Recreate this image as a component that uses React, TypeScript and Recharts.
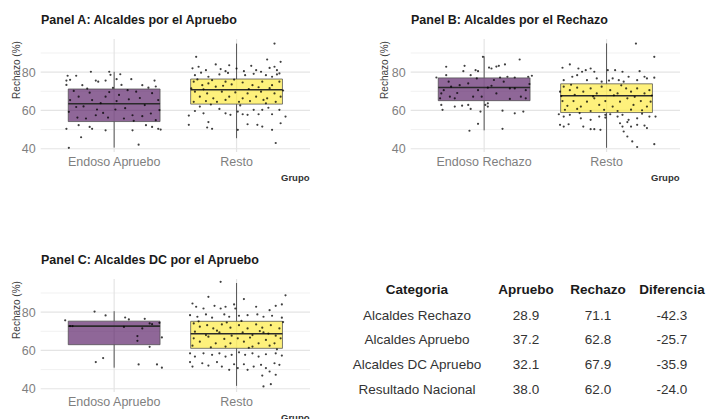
import React from "react";
import { ComposedChart, XAxis, YAxis, Scatter, ReferenceLine, ReferenceArea, CartesianGrid } from "recharts";

// ---------- data ----------
const CATS_A = ["Endoso Apruebo", "Resto"];
const CATS_B = ["Endoso Rechazo", "Resto"];
const CATS_C = ["Endoso Apruebo", "Resto"];

const TITLES = [
  "Panel A: Alcaldes por el Apruebo",
  "Panel B: Alcaldes por el Rechazo",
  "Panel C: Alcaldes DC por el Apruebo",
];

const Y_TICKS = [40, 60, 80];
const GRID_MINOR = [50, 70, 90];
const X_POS = [1, 2];
const Y_DOMAIN = [38.3, 97.3];

// box stats: [lower whisker, q1, median, q3, upper whisker]
const BOX_A = [
  [40.6, 54.2, 63.5, 71.2, 80.2],
  [45.5, 63.3, 70.8, 76.4, 94.9],
];
const BOX_B = [
  [49.6, 65.1, 72.0, 77.0, 88.3],
  [40.5, 58.9, 67.7, 73.9, 95.0],
];
const BOX_C = [
  [51.0, 63.0, 72.7, 75.3, 80.5],
  [41.5, 61.1, 68.7, 75.2, 95.2],
];

// jittered points: [horizontal jitter offset, value]
const PTS_A_ENDOSO = [
  [-0.38, 78.1], [-0.31, 78.1], [-0.19, 80.2], [-0.04, 80.2], [-0.03, 78.6], [-0.39, 75.6], [-0.36, 76],
  [-0.39, 73.3], [-0.26, 73.2], [-0.15, 75.6], [-0.13, 75], [-0.07, 75.6], [0.02, 76.3], [0.06, 73.3],
  [0.14, 76.3], [0.23, 73.2], [0.33, 75.6], [0.34, 72.5], [-0.36, 65.4], [-0.29, 67.2], [-0.2, 69.3],
  [-0.18, 65.4], [-0.14, 60.5], [-0.07, 67.2], [-0.04, 69.6], [0.02, 64.9], [0.04, 68.1], [0.12, 65.8],
  [0.18, 69.8], [0.25, 62.8], [0.31, 69], [0.36, 65.4], [-0.37, 59.3], [-0.3, 56.3], [-0.23, 55.8],
  [-0.15, 57.5], [-0.05, 56.3], [0.01, 60.5], [0.08, 55.8], [0.15, 57.5], [0.23, 57], [0.3, 58.4],
  [0.34, 54.9], [-0.39, 50.4], [-0.29, 52.3], [-0.2, 51.4], [-0.18, 50.4], [-0.07, 49.6], [-0.27, 46],
  [-0.37, 40.5], [0.15, 49.6], [0.2, 42.1], [0.31, 51.4], [0.36, 50.4], [0.38, 50], [0.26, 52.3],
  [-0.33, 70.2], [-0.25, 62.1], [-0.11, 63.8], [-0.01, 71.8], [0.09, 61.2], [0.21, 66.5], [0.28, 71.9],
  [0.37, 60.2], [-0.22, 71.4], [0.11, 70.6], [-0.09, 58.7], [0.16, 54.6], [-0.31, 61.8], [0.05, 78.9],
];
const PTS_A_RESTO = [
  [0.31, 94.9], [-0.33, 88], [0.25, 86.6], [0.36, 85.4], [-0.36, 82], [-0.31, 82.8], [-0.25, 81],
  [-0.17, 84], [-0.13, 81.6], [-0.09, 80.5], [-0.06, 83.6], [0, 81.9], [0.06, 80.5], [0.12, 83.3],
  [0.16, 81], [0.2, 80.2], [0.27, 82.2], [0.31, 82.8], [0.33, 81], [0.35, 79.3], [-0.34, 78.4],
  [-0.23, 77.6], [-0.14, 78.8], [0.07, 78.4], [0.24, 78.4], [0.29, 77.6], [-0.35, 75], [-0.28, 73.2],
  [-0.23, 74.1], [-0.17, 72.4], [-0.09, 75], [-0.04, 73.6], [0.05, 74.6], [0.13, 73.2], [0.21, 75],
  [0.29, 73.2], [0.35, 75], [-0.34, 69.8], [-0.3, 67.2], [-0.24, 68.9], [-0.19, 66.3], [-0.12, 69.8],
  [-0.06, 67.2], [-0.01, 69.4], [0.05, 66.3], [0.09, 68.9], [0.16, 67.2], [0.2, 69.8], [0.25, 66.3],
  [0.31, 68.9], [0.36, 67.2], [-0.35, 64.5], [-0.25, 64.9], [-0.16, 64.5], [-0.09, 65.5], [0.02, 64.5],
  [0.11, 64.9], [0.22, 65.5], [0.32, 64.5], [0.24, 63.7], [-0.3, 62], [-0.34, 59.7], [-0.27, 58.5],
  [-0.14, 60.8], [-0.09, 58.5], [-0.05, 57.7], [0.01, 59.4], [0.05, 58], [0.09, 57.7], [0.14, 60.3],
  [0.18, 58], [0.21, 60.3], [0.29, 58], [0.35, 60.3], [0.4, 56.8], [-0.39, 52.5], [-0.23, 53.9],
  [-0.24, 51.1], [-0.2, 50.4], [0.09, 52.8], [0.17, 52.5], [0.21, 51.6], [0.36, 53.3], [0.29, 49.9],
  [0.32, 43], [0.01, 49.9], [-0.39, 57.3], [-0.37, 71.5], [-0.2, 75.8], [-0.02, 76.1], [0.1, 71.2],
  [0.27, 71.6], [0.38, 70.4], [-0.27, 71], [-0.11, 72.9], [0.18, 72.1], [-0.32, 76.2], [0.03, 62.6],
  [-0.21, 63.1], [0.26, 61.4], [0.33, 78.8], [-0.07, 79.6], [0.14, 79.1], [-0.29, 79.7],
];
const PTS_B_ENDOSO = [
  [-0.01, 88], [-0.31, 82.8], [-0.16, 83.3], [-0.07, 81], [-0.05, 80.5], [0.04, 82.4], [0.06, 81.9],
  [0.1, 82.9], [0.12, 83.3], [0.17, 84], [0.29, 86.6], [-0.39, 77.2], [-0.31, 78.4], [-0.17, 80.5],
  [-0.11, 78.4], [-0.06, 76.7], [0.13, 77.2], [0.19, 77.6], [0.25, 77.2], [0.36, 77.6], [0.39, 78.1],
  [-0.33, 70.6], [-0.29, 75], [-0.27, 72.4], [-0.2, 73.2], [-0.13, 74.1], [-0.05, 70.6], [-0.02, 67.2],
  [0.03, 71.9], [0.06, 72.9], [0.1, 68.9], [0.16, 75], [0.21, 71.5], [0.25, 71.5], [0.3, 67.2],
  [0.34, 70.6], [-0.36, 66.3], [-0.28, 67.2], [-0.24, 66.3], [-0.09, 67.2], [0.21, 66], [0.34, 66.3],
  [-0.35, 68.9], [-0.35, 62.9], [-0.34, 60.3], [-0.18, 62.5], [-0.13, 62.9], [-0.11, 60.8],
  [-0.03, 59.4], [0.01, 62.9], [0.03, 62], [0.15, 59.9], [0.25, 58.5], [0.32, 59.4], [-0.05, 53],
  [-0.12, 49.4], [0.15, 50.4], [-0.24, 62], [0.03, 63.7], [0.37, 73.8], [-0.22, 69.1], [0.08, 75.9],
];
const PTS_B_RESTO = [
  [0.24, 94.9], [0.39, 88], [-0.36, 82.3], [-0.3, 84], [-0.23, 81.9], [-0.2, 80.2], [-0.17, 81],
  [-0.13, 81.9], [-0.1, 80.2], [0.01, 81], [0.07, 81], [0.13, 80.2], [0.18, 77.6], [0.27, 80.5],
  [0.33, 76.7], [0.39, 77.1], [-0.35, 75.8], [-0.28, 77.6], [-0.24, 78.4], [-0.16, 75.8], [-0.08, 76.7],
  [-0.04, 75], [0.05, 76.7], [0.1, 75.8], [0.14, 75], [0.25, 75.8], [0.31, 77.6], [-0.35, 72.4],
  [-0.3, 70.6], [-0.24, 71.9], [-0.19, 69.8], [-0.13, 71.5], [-0.08, 68.9], [-0.04, 72.4], [0.03, 70.6],
  [0.09, 68.9], [0.16, 71.5], [0.2, 69.8], [0.25, 71.5], [0.31, 68.9], [0.35, 70.6], [-0.36, 64.9],
  [-0.32, 62.4], [-0.27, 64.9], [-0.21, 62], [-0.16, 64.6], [-0.1, 66.3], [-0.06, 62.9], [-0.01, 64.9],
  [0.05, 62], [0.11, 64.6], [0.17, 66.3], [0.22, 62.9], [0.28, 64.9], [0.33, 62], [0.36, 64.6],
  [-0.34, 60.3], [-0.24, 60.8], [-0.13, 59.7], [-0.02, 60.3], [0.09, 59.7], [0.2, 60.4], [0.29, 60.1],
  [-0.39, 58], [-0.35, 56.8], [-0.3, 57.7], [-0.21, 55.9], [-0.13, 55.1], [-0.06, 56.8], [-0.01, 57.7],
  [0.03, 58], [0.09, 56.8], [0.13, 57.7], [0.18, 55.1], [0.25, 55.9], [0.35, 56.8], [0.4, 56.8],
  [-0.38, 52.5], [-0.35, 51.6], [-0.31, 52.8], [-0.19, 51.6], [-0.13, 50.2], [-0.1, 50.2], [-0.05, 49.9],
  [0.11, 53.3], [0.13, 51.6], [0.17, 53.9], [0.14, 49], [0.2, 51.6], [0.25, 52.5], [0.31, 52.1],
  [0.33, 50.8], [0.17, 46.4], [0.21, 43.8], [0.25, 40.9], [0.39, 42.4], [-0.01, 56.3], [-0.37, 67.5],
  [-0.26, 68.2], [-0.11, 67.3], [0.06, 67.9], [0.23, 67.1], [0.37, 67.8], [-0.29, 73.4], [0.12, 73.1],
  [-0.38, 69.8], [0.29, 58.3], [-0.22, 58.6], [0.02, 75.6],
];
const PTS_C_ENDOSO = [
  [-0.4, 75.7], [-0.36, 72.7], [-0.34, 72.7], [-0.16, 80.3], [-0.07, 78.3], [0.09, 77.2], [0.12, 76.2],
  [0.25, 76.5], [0.29, 74.1], [0.31, 73.7], [0.08, 72.3], [0.23, 71.5], [0.19, 67.5], [0.19, 65],
  [0.29, 61.9], [0.39, 66.8], [-0.09, 56], [-0.15, 53.9], [0.2, 52.7], [0.35, 52.7], [0.39, 51],
  [0.37, 74.4],
];
const PTS_C_RESTO = [
  [-0.13, 95.8], [0.4, 88.8], [-0.23, 88], [0.06, 86.8], [-0.36, 84.5], [-0.33, 82.8], [-0.27, 81.9],
  [-0.18, 83.3], [-0.13, 81.9], [-0.09, 82.8], [-0.02, 84], [-0.01, 81.9], [0.16, 82.8], [0.27, 81],
  [0.32, 83.3], [0.37, 84], [-0.38, 78.4], [-0.32, 77.6], [-0.25, 78.8], [-0.2, 77.1], [-0.1, 78.8],
  [-0.06, 77.6], [0.02, 78.1], [0.09, 78.4], [0.17, 78.8], [0.22, 77.6], [0.29, 78.1], [0.37, 77.1],
  [-0.35, 74.1], [-0.3, 72.4], [-0.24, 73.2], [-0.19, 71.5], [-0.12, 73.6], [-0.05, 71.9], [0.02, 73.2],
  [0.09, 71.5], [0.16, 73.6], [0.21, 71.9], [0.28, 73.2], [0.35, 71.5], [-0.35, 66.3], [-0.3, 64.6],
  [-0.23, 67.2], [-0.17, 63.7], [-0.1, 66], [-0.05, 63.7], [0.01, 66.3], [0.06, 64.6], [0.11, 66.7],
  [0.18, 63.7], [0.24, 65.5], [0.31, 63.7], [0.36, 66.3], [-0.34, 69.8], [-0.25, 68], [-0.14, 69.4],
  [-0.04, 67.7], [0.05, 69.4], [0.13, 68], [0.22, 69.4], [0.32, 67.7], [-0.36, 62.5], [-0.09, 62],
  [0.13, 62], [0.27, 62.5], [-0.38, 58.5], [-0.34, 56.8], [-0.27, 58.5], [-0.2, 57.7], [-0.14, 58.5],
  [-0.09, 56.8], [-0.04, 57.7], [0.02, 59], [0.07, 57.7], [0.13, 58.5], [0.18, 56.8], [0.24, 58],
  [0.32, 58.5], [0.37, 57.3], [-0.38, 53.9], [-0.28, 53.3], [-0.23, 52.1], [-0.16, 53.9], [-0.12, 51.6],
  [-0.02, 52.8], [0.01, 50.8], [0.06, 52.8], [0.09, 49.9], [0.14, 51.6], [0.2, 52.5], [0.24, 50.8],
  [0.27, 49], [0.31, 53.3], [0.35, 52.5], [0.32, 47.3], [0.21, 46.9], [0.28, 42.4], [0.22, 41.2],
  [-0.36, 51.6], [-0.06, 49.9], [-0.31, 75.2], [-0.16, 70.3], [0.04, 75.4], [0.19, 70.1], [0.38, 74.8],
  [-0.21, 61.6], [0.1, 61.4], [0.33, 60.6], [-0.08, 74.6], [0.26, 68.8],
];

const TABLE_HEAD = ["Categoria", "Apruebo", "Rechazo", "Diferencia"];
const TABLE_CATS = ["Alcaldes Rechazo", "Alcaldes Apruebo", "Alcaldes DC Apruebo", "Resultado Nacional"];
const TABLE_APRUEBO = ["28.9", "37.2", "32.1", "38.0"];
const TABLE_RECHAZO = ["71.1", "62.8", "67.9", "62.0"];
const TABLE_DIF = ["-42.3", "-25.7", "-35.9", "-24.0"];

// ---------- styling ----------
const FONT = "'Liberation Sans', Arial, sans-serif";
const FILLS = ["#440154", "#FDE725"];
const BOX_W = 0.375;

const Dot = (props: any) => {
  const { cx, cy } = props;
  if (cx == null || cy == null) return null;
  return <circle cx={cx} cy={cy} r={1.1} fill="#000" fillOpacity={0.75} />;
};

type PanelProps = {
  left: number;
  top: number;
  title: string;
  cats: string[];
  boxes: number[][];
  pts: number[][][];
  yLabelX: number;
};

function BoxPanel({ left, top, title, cats, boxes, pts, yLabelX }: PanelProps) {
  const W = 350;
  const H = 200;
  const children: any[] = [];
  boxes.forEach((b, i) => {
    const c = X_POS[i];
    children.push(
      <ReferenceLine
        key={"wl" + i}
        segment={[{ x: c, y: b[0] }, { x: c, y: b[1] }]}
        stroke="#555"
        strokeWidth={1}
      />
    );
    children.push(
      <ReferenceLine
        key={"wh" + i}
        segment={[{ x: c, y: b[3] }, { x: c, y: b[4] }]}
        stroke="#555"
        strokeWidth={1}
      />
    );
    children.push(
      <ReferenceArea
        key={"bx" + i}
        x1={c - BOX_W}
        x2={c + BOX_W}
        y1={b[1]}
        y2={b[3]}
        fill={FILLS[i]}
        fillOpacity={0.6}
        stroke="#4a4a4a"
        strokeOpacity={0.9}
        strokeWidth={0.8}
      />
    );
    children.push(
      <ReferenceLine
        key={"md" + i}
        segment={[{ x: c - BOX_W, y: b[2] }, { x: c + BOX_W, y: b[2] }]}
        stroke="#2a2a2a"
        strokeWidth={1.6}
      />
    );
  });
  pts.forEach((arr, i) =>
    children.push(
      <Scatter
        key={"sc" + i}
        data={arr.map(([dx, y]) => ({ x: X_POS[i] + dx, y }))}
        shape={Dot}
        isAnimationActive={false}
      />
    )
  );

  return (
    <div style={{ position: "absolute", left, top, width: W, height: H }}>
      <ComposedChart width={W} height={H} margin={{ top: 39, right: 40, bottom: 28, left: 0 }}>
        <CartesianGrid
          horizontalValues={GRID_MINOR}
          vertical={false}
          stroke="#efefef"
          strokeWidth={0.9}
        />
        <CartesianGrid
          horizontalValues={Y_TICKS}
          verticalValues={X_POS}
          stroke="#e4e4e4"
          strokeWidth={1.2}
        />
        <XAxis
          type="number"
          dataKey="x"
          domain={[0.4, 2.6]}
          ticks={X_POS}
          tickFormatter={(v: number) => cats[Math.round(v) - 1]}
          axisLine={false}
          tickLine={false}
          tickSize={0}
          tickMargin={5}
          height={20}
          tick={{ fill: "#7f7f7f", fontSize: 12.5, fontFamily: FONT }}
          allowDataOverflow
        />
        <YAxis
          type="number"
          dataKey="y"
          domain={Y_DOMAIN}
          ticks={Y_TICKS}
          axisLine={false}
          tickLine={false}
          tickSize={0}
          tickMargin={5}
          width={40.7}
          tick={{ fill: "#7f7f7f", fontSize: 12.5, fontFamily: FONT }}
          allowDataOverflow
        />
        {children}
      </ComposedChart>
      <svg
        width={W}
        height={H}
        style={{ position: "absolute", left: 0, top: 0, pointerEvents: "none" }}
      >
        <text x={41} y={23.5} fontFamily={FONT} fontSize={12.5} fontWeight="bold" fill="#1a1a1a">
          {title}
        </text>
        <text
          x={yLabelX}
          y={70}
          fontFamily={FONT}
          fontSize={10}
          fill="#404040"
          textAnchor="middle"
          transform={`rotate(-90, ${yLabelX}, 70)`}
        >
          Rechazo (%)
        </text>
        <text x={309.5} y={181} fontFamily={FONT} fontSize={9.5} fontWeight="bold" fill="#333" textAnchor="end">
          Grupo
        </text>
      </svg>
    </div>
  );
}

function StatsTable() {
  const colX = [417, 526, 598, 672];
  const headY = 294;
  const rowY = [319.5, 344, 369, 393.5];
  const cols = [TABLE_CATS, TABLE_APRUEBO, TABLE_RECHAZO, TABLE_DIF];
  return (
    <svg width={707} height={419} style={{ position: "absolute", left: 0, top: 0, pointerEvents: "none" }}>
      {TABLE_HEAD.map((h, j) => (
        <text key={"h" + j} x={colX[j]} y={headY} textAnchor="middle" fontFamily={FONT} fontSize={13.5} fontWeight="bold" fill="#1a1a1a">
          {h}
        </text>
      ))}
      {cols.map((col, j) =>
        col.map((v, r) => (
          <text key={"c" + j + r} x={colX[j]} y={rowY[r]} textAnchor="middle" fontFamily={FONT} fontSize={13.5} fill="#333">
            {v}
          </text>
        ))
      )}
    </svg>
  );
}

export default function App() {
  return (
    <div
      style={{
        position: "absolute",
        left: 0,
        top: 0,
        width: 707,
        height: 419,
        overflow: "hidden",
        background: "#fff",
        fontFamily: FONT,
      }}
    >
      <BoxPanel left={0} top={0} title={TITLES[0]} cats={CATS_A} boxes={BOX_A} pts={[PTS_A_ENDOSO, PTS_A_RESTO]} yLabelX={20} />
      <BoxPanel left={370} top={0} title={TITLES[1]} cats={CATS_B} boxes={BOX_B} pts={[PTS_B_ENDOSO, PTS_B_RESTO]} yLabelX={18} />
      <BoxPanel left={0} top={240} title={TITLES[2]} cats={CATS_C} boxes={BOX_C} pts={[PTS_C_ENDOSO, PTS_C_RESTO]} yLabelX={20} />
      <StatsTable />
    </div>
  );
}
